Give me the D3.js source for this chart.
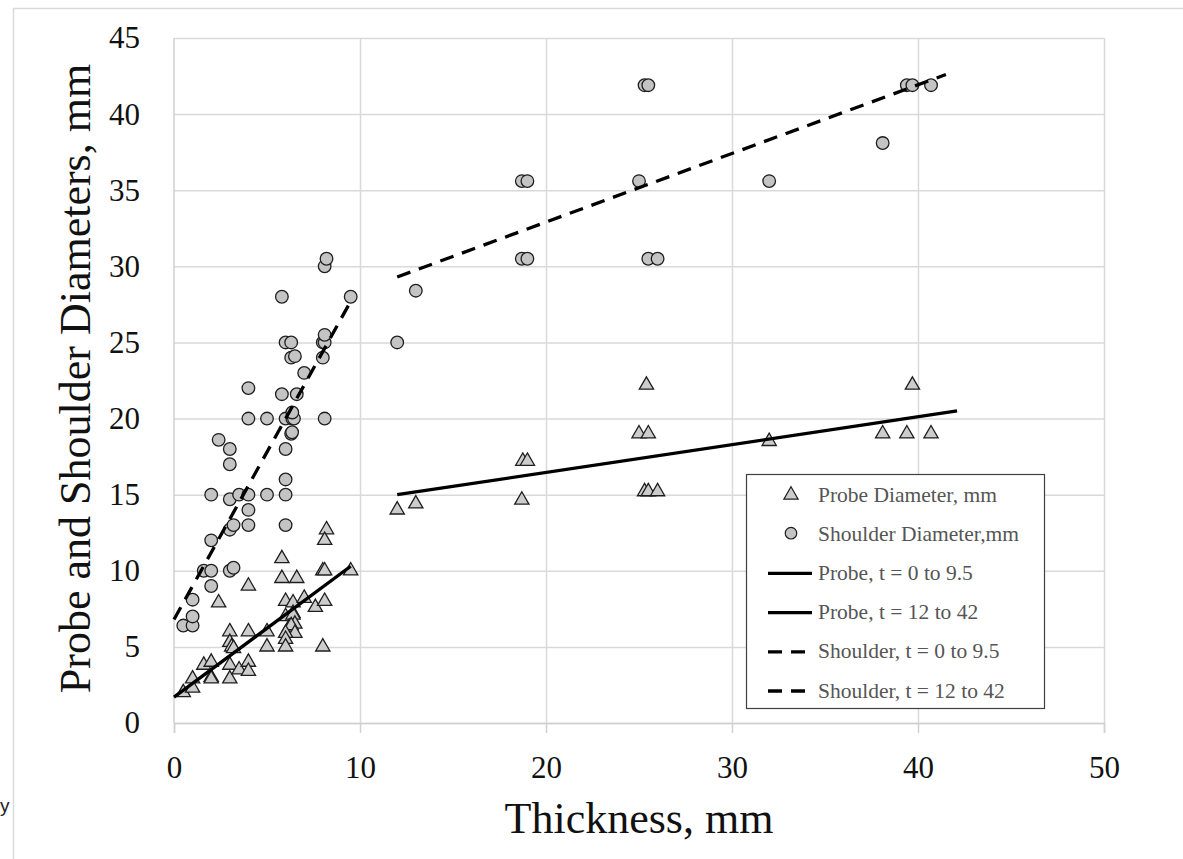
<!DOCTYPE html>
<html>
<head>
<meta charset="utf-8">
<script src="https://cdn.jsdelivr.net/npm/d3@7"></script>
<style>
  html, body { margin: 0; padding: 0; background: #fff; }
  svg { display: block; }
</style>
</head>
<body>
<svg id="chart" width="1183" height="859"></svg>
<script>
// ---------- DATA ----------
const xTicks = [0, 10, 20, 30, 40, 50];
const yTicks = [0, 5, 10, 15, 20, 25, 30, 35, 40, 45];

// Probe diameter (triangles): [thickness, diameter]
const probeData = [
  [0.5, 2.0], [1.0, 2.3], [1.0, 2.9], [1.6, 3.8], [2.0, 4.0], [2.0, 3.0], [2.0, 2.9],
  [2.4, 7.9], [3.0, 6.0], [3.0, 5.3], [3.1, 5.0], [3.2, 4.9], [3.0, 3.8], [3.0, 2.9],
  [3.5, 3.5], [4.0, 4.0], [4.0, 3.4], [4.0, 6.0], [4.0, 9.0], [5.0, 5.0], [5.0, 6.0],
  [5.8, 10.8], [5.8, 9.5], [6.6, 9.5], [6.0, 8.0], [6.4, 7.9], [7.0, 8.2], [7.6, 7.6],
  [8.1, 8.0], [6.4, 7.2], [6.0, 7.0], [6.4, 7.1], [6.5, 6.5], [6.2, 6.3], [6.3, 6.4],
  [6.5, 5.9], [6.0, 5.9], [6.0, 5.5], [6.0, 5.0], [8.0, 5.0], [8.0, 10.0], [8.1, 10.0],
  [9.5, 10.0], [8.2, 12.7], [8.1, 12.0],
  [12.0, 14.0], [13.0, 14.4], [18.7, 14.65], [18.75, 17.2], [19.0, 17.2],
  [25.0, 19.0], [25.5, 19.0], [25.4, 22.2], [25.3, 15.2], [25.5, 15.2], [26.0, 15.2],
  [32.0, 18.5], [38.1, 19.0], [39.4, 19.0], [40.7, 19.0], [39.7, 22.2]
];

// Shoulder diameter (circles): [thickness, diameter]
const shoulderData = [
  [0.5, 6.4], [1.0, 6.4], [1.0, 7.0], [1.0, 8.1], [2.0, 9.0], [1.6, 10.0], [2.0, 10.0],
  [3.0, 10.0], [3.2, 10.2], [2.0, 12.0], [3.0, 12.7], [3.2, 13.0], [4.0, 13.0], [6.0, 13.0],
  [4.0, 14.0], [3.0, 14.7], [2.0, 15.0], [3.5, 15.0], [4.0, 15.0], [5.0, 15.0], [6.0, 15.0],
  [6.0, 16.0], [3.0, 17.0], [3.0, 18.0], [6.0, 18.0], [2.4, 18.6], [6.3, 19.0], [6.35, 19.1],
  [4.0, 20.0], [5.0, 20.0], [6.0, 20.0], [6.36, 20.0], [6.45, 20.0], [6.36, 20.4], [8.1, 20.0],
  [4.0, 22.0], [5.8, 21.6], [6.6, 21.6], [7.0, 23.0], [6.3, 24.0], [6.5, 24.1], [8.0, 24.0],
  [6.0, 25.0], [6.3, 25.0], [8.0, 25.0], [8.1, 25.0], [8.1, 25.5], [5.8, 28.0], [9.5, 28.0],
  [8.1, 30.0], [8.2, 30.5],
  [12.0, 25.0], [13.0, 28.4], [18.7, 30.5], [19.0, 30.5], [18.7, 35.6], [19.0, 35.6],
  [25.0, 35.6], [25.5, 30.5], [26.0, 30.5], [25.3, 41.9], [25.5, 41.9], [32.0, 35.6],
  [38.1, 38.1], [39.4, 41.9], [39.7, 41.9], [40.7, 41.9]
];

// Trend lines (endpoints)
const probeFit1 = [[0, 1.7], [9.5, 10.3]];
const probeFit2 = [[12, 15.0], [42.1, 20.5]];
const shoulderFit1 = [[0, 6.8], [9.5, 27.7]];
const shoulderFit2 = [[12, 29.3], [41.5, 42.6]];

const legendLabels = [
  "Probe Diameter, mm",
  "Shoulder Diameter,mm",
  "Probe, t = 0 to 9.5",
  "Probe, t = 12 to 42",
  "Shoulder, t = 0 to 9.5",
  "Shoulder, t = 12 to 42"
];
const legendKinds = ["triangle", "circle", "solid", "solid", "dash", "dash"];

// ---------- LAYOUT ----------
const svg = d3.select("#chart");
const serif = "'Liberation Serif', 'Times New Roman', serif";
const pL = 174, pR = 1104, pT = 38, pB = 723;

const x = d3.scaleLinear().domain([0, 50]).range([pL, pR]);
const y = d3.scaleLinear().domain([0, 45]).range([pB, pT]);

// outer frame
svg.append("line").attr("x1", 13).attr("x2", 1183).attr("y1", 8.5).attr("y2", 8.5)
  .attr("stroke", "#d9d9d9").attr("stroke-width", 1.5);
svg.append("line").attr("x1", 13.5).attr("x2", 13.5).attr("y1", 8).attr("y2", 859)
  .attr("stroke", "#d9d9d9").attr("stroke-width", 1.5);

// small text at left edge
svg.append("text").attr("x", 0).attr("y", 812).attr("text-anchor", "start")
  .attr("font-family", "'Liberation Sans', Arial, sans-serif").attr("font-size", 19)
  .attr("fill", "#222").text("y");

// grid
const gridColor = "#d9d9d9";
const gx = svg.append("g").attr("transform", `translate(0,${pB})`)
  .call(d3.axisBottom(x).tickValues(xTicks.slice(1)).tickSize(-(pB - pT)).tickFormat(""));
gx.select(".domain").remove();
gx.selectAll("line").attr("stroke", gridColor).attr("stroke-width", 1.5);

const gy = svg.append("g").attr("transform", `translate(${pL},0)`)
  .call(d3.axisLeft(y).tickValues(yTicks).tickSize(-(pR - pL)).tickFormat(""));
gy.select(".domain").remove();
gy.selectAll("line").attr("stroke", gridColor).attr("stroke-width", 1.5);

// y axis line
svg.append("line").attr("x1", pL).attr("x2", pL).attr("y1", pT).attr("y2", pB)
  .attr("stroke", "#d0d0d0").attr("stroke-width", 1.5);

// x axis
const xa = svg.append("g").attr("transform", `translate(0,${pB})`)
  .call(d3.axisBottom(x).tickValues(xTicks).tickSize(10).tickPadding(23));
xa.select(".domain").attr("stroke", "#d0d0d0").attr("stroke-width", 1.5);
xa.selectAll("line").attr("stroke", "#d0d0d0").attr("stroke-width", 1.5);
xa.selectAll("text").attr("font-family", serif).attr("font-size", 31).attr("fill", "#111");

// y axis labels
const ya = svg.append("g").attr("transform", `translate(${pL},0)`)
  .call(d3.axisLeft(y).tickValues(yTicks).tickSize(0).tickPadding(34));
ya.select(".domain").remove();
ya.selectAll("text").attr("font-family", serif).attr("font-size", 31).attr("fill", "#111");

// axis titles
svg.append("text").attr("x", (pL + pR) / 2).attr("y", 833).attr("text-anchor", "middle")
  .attr("font-family", serif).attr("font-size", 44).attr("fill", "#111").text("Thickness, mm");
svg.append("text").attr("transform", `translate(90,${(pT + pB) / 2 - 2}) rotate(-90)`)
  .attr("text-anchor", "middle")
  .attr("font-family", serif).attr("font-size", 44).attr("fill", "#111")
  .text("Probe and Shoulder Diameters, mm");

// markers
const triSym = d3.symbol().type(d3.symbolTriangle).size(88);
const cirSym = d3.symbol().type(d3.symbolCircle).size(125);
const triFill = "#cccccc", cirFill = "#c4c4c4", markerStroke = "#1e1e1e";

svg.append("g").selectAll("path").data(probeData).join("path")
  .attr("d", triSym)
  .attr("transform", d => `translate(${x(d[0])},${y(d[1])})`)
  .attr("fill", triFill).attr("stroke", markerStroke).attr("stroke-width", 1.3);

svg.append("g").selectAll("path").data(shoulderData).join("path")
  .attr("d", cirSym)
  .attr("transform", d => `translate(${x(d[0])},${y(d[1])})`)
  .attr("fill", cirFill).attr("stroke", markerStroke).attr("stroke-width", 1.3);

// trend lines
const lineGen = d3.line().x(d => x(d[0])).y(d => y(d[1]));
[[probeFit1, null], [probeFit2, null], [shoulderFit1, "14,9"], [shoulderFit2, "14,9"]].forEach(([data, dash]) => {
  svg.append("path").datum(data).attr("d", lineGen)
    .attr("fill", "none").attr("stroke", "#000").attr("stroke-width", 3.3)
    .attr("stroke-dasharray", dash);
});

// legend
const lg = svg.append("g");
const lx0 = 746.5, ly0 = 474.5, lw = 298, lh = 234;
lg.append("rect").attr("x", lx0).attr("y", ly0).attr("width", lw).attr("height", lh)
  .attr("fill", "#fff").attr("stroke", "#404040").attr("stroke-width", 1.2);
const rowY = i => 494 + i * 39.2;
legendLabels.forEach((lab, i) => {
  const yy = rowY(i);
  const k = legendKinds[i];
  if (k === "triangle") {
    lg.append("path").attr("d", triSym)
      .attr("transform", `translate(791,${yy + 1})`)
      .attr("fill", triFill).attr("stroke", markerStroke).attr("stroke-width", 1.2);
  } else if (k === "circle") {
    lg.append("path").attr("d", d3.symbol().type(d3.symbolCircle).size(105))
      .attr("transform", `translate(791,${yy})`)
      .attr("fill", cirFill).attr("stroke", markerStroke).attr("stroke-width", 1.2);
  } else {
    lg.append("line").attr("x1", 768).attr("x2", 812).attr("y1", yy + 1).attr("y2", yy + 1)
      .attr("stroke", "#000").attr("stroke-width", 3.3)
      .attr("stroke-dasharray", k === "dash" ? "14,9" : null);
  }
  lg.append("text").attr("x", 818).attr("y", yy).attr("dy", "0.35em")
    .attr("font-family", serif).attr("font-size", 21.5).attr("fill", "#555")
    .text(lab);
});
</script>
</body>
</html>
